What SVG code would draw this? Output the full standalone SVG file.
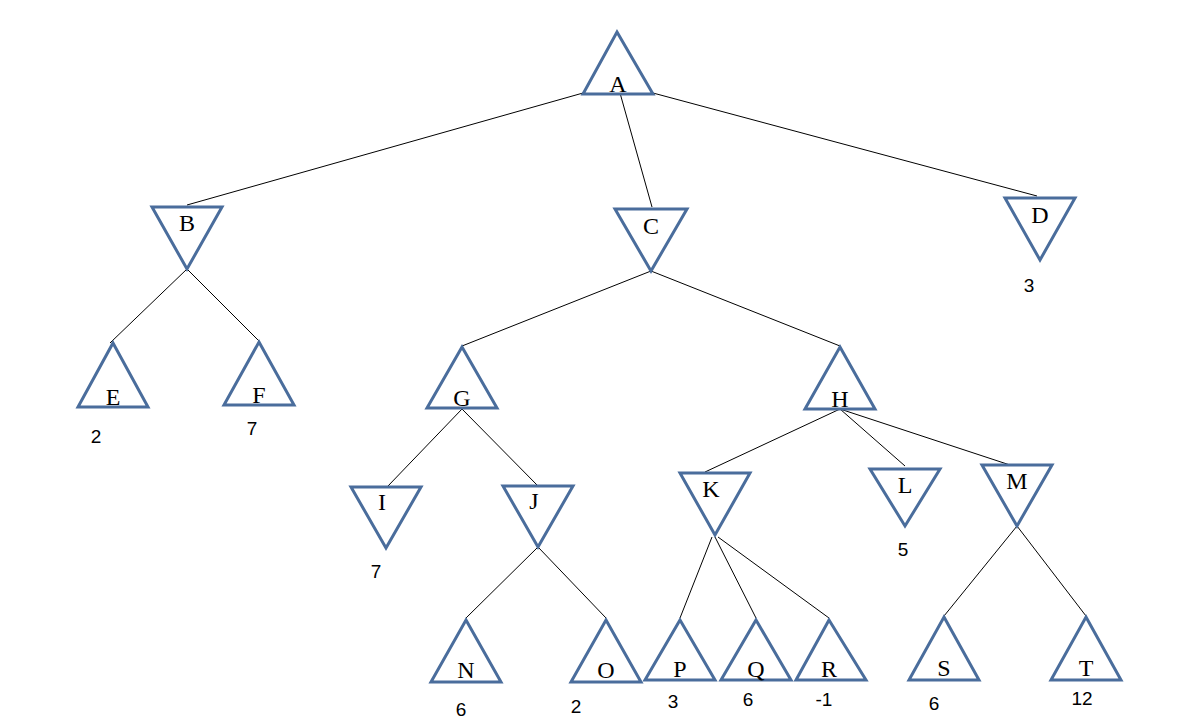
<svg xmlns="http://www.w3.org/2000/svg" width="1200" height="726" viewBox="0 0 1200 726">
<style>
.t{fill:#fff;stroke:#4a6d9c;stroke-width:3}
.l{font-family:"Liberation Serif",serif;font-size:24px;text-anchor:middle}
.v{font-family:"Liberation Sans",sans-serif;font-size:19px;text-anchor:middle}
#edges line{stroke:#000;stroke-width:1}
</style>
<rect width="1200" height="726" fill="#fff"/>
<g id="edges">
<line x1="583" y1="93" x2="187" y2="205"/><line x1="620" y1="93" x2="652" y2="207"/><line x1="653" y1="93" x2="1037" y2="196"/>
<line x1="187" y1="269" x2="110" y2="343"/><line x1="187" y1="269" x2="260" y2="342"/>
<line x1="651" y1="271" x2="462" y2="346"/><line x1="651" y1="271" x2="840" y2="346"/>
<line x1="462" y1="409" x2="388" y2="486"/><line x1="462" y1="409" x2="538" y2="486"/>
<line x1="840" y1="409" x2="705" y2="472"/><line x1="840" y1="409" x2="905" y2="466"/><line x1="840" y1="409" x2="1010" y2="465"/>
<line x1="538" y1="547" x2="466" y2="618"/><line x1="538" y1="547" x2="606" y2="618"/>
<line x1="712" y1="537" x2="680" y2="618"/><line x1="715" y1="537" x2="756" y2="618"/><line x1="718" y1="537" x2="829" y2="618"/>
<line x1="1017" y1="526" x2="944" y2="616"/><line x1="1017" y1="526" x2="1086" y2="616"/>
</g>
<g id="A"><polygon class="t" points="617,32 653,94 583,94"/><text class="l" x="618" y="92">A</text></g>
<g id="B"><polygon class="t" points="152,207 222,207 187,269"/><text class="l" x="187" y="231">B</text></g>
<g id="C"><polygon class="t" points="615,209 687,209 651,271"/><text class="l" x="651" y="234">C</text></g>
<g id="D"><polygon class="t" points="1005,198 1075,198 1040,260"/><text class="l" x="1040" y="223">D</text><text class="v" x="1029" y="292">3</text></g>
<g id="E"><polygon class="t" points="113,343 148,407 78,407"/><text class="l" x="113" y="405">E</text><text class="v" x="96" y="443">2</text></g>
<g id="F"><polygon class="t" points="259,342 294,405 224,405"/><text class="l" x="259" y="403">F</text><text class="v" x="252" y="435">7</text></g>
<g id="G"><polygon class="t" points="462,347 497,408 427,408"/><text class="l" x="462" y="406">G</text></g>
<g id="H"><polygon class="t" points="840,347 875,409 805,409"/><text class="l" x="840" y="407">H</text></g>
<g id="I"><polygon class="t" points="351,487 421,487 386,548"/><text class="l" x="382" y="510">I</text><text class="v" x="376" y="578">7</text></g>
<g id="J"><polygon class="t" points="503,486 573,486 538,547"/><text class="l" x="534" y="509">J</text></g>
<g id="K"><polygon class="t" points="680,473 750,473 715,535"/><text class="l" x="711" y="497">K</text></g>
<g id="L"><polygon class="t" points="870,469 940,469 905,526"/><text class="l" x="905" y="493">L</text><text class="v" x="903" y="556">5</text></g>
<g id="M"><polygon class="t" points="982,465 1052,465 1017,526"/><text class="l" x="1017" y="489">M</text></g>
<g id="N"><polygon class="t" points="466,620 501,682 431,682"/><text class="l" x="466" y="678">N</text><text class="v" x="461" y="716">6</text></g>
<g id="O"><polygon class="t" points="606,620 641,682 571,682"/><text class="l" x="606" y="678">O</text><text class="v" x="576" y="713">2</text></g>
<g id="P"><polygon class="t" points="680,620 715,680 645,680"/><text class="l" x="680" y="677">P</text><text class="v" x="673" y="708">3</text></g>
<g id="Q"><polygon class="t" points="756,620 791,680 721,680"/><text class="l" x="756" y="677">Q</text><text class="v" x="748" y="706">6</text></g>
<g id="R"><polygon class="t" points="829,620 866,680 796,680"/><text class="l" x="829" y="677">R</text><text class="v" x="824" y="706">-1</text></g>
<g id="S"><polygon class="t" points="944,617 979,680 909,680"/><text class="l" x="944" y="676">S</text><text class="v" x="934" y="710">6</text></g>
<g id="T"><polygon class="t" points="1086,617 1121,680 1051,680"/><text class="l" x="1086" y="676">T</text><text class="v" x="1082" y="705">12</text></g>
</svg>
